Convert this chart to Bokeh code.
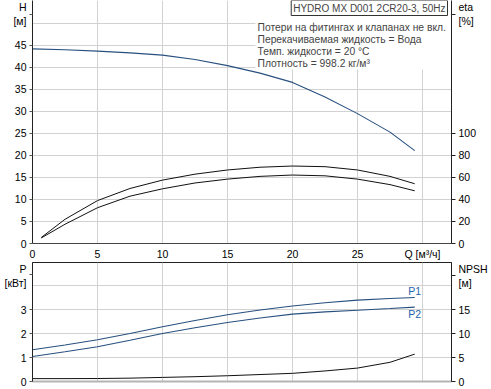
from bokeh.plotting import figure
from bokeh.layouts import column
from bokeh.models import Range1d, LinearAxis, FixedTicker, Label, BoxAnnotation
from bokeh.embed import file_html
from bokeh.resources import INLINE

# ---- data ----
q = [0, 2.5, 5, 7.5, 10, 12.5, 15, 17.5, 20, 22.5, 25, 27.5, 29.4]
head_m = [44.2, 44.0, 43.7, 43.3, 42.8, 41.8, 40.4, 38.7, 36.6, 33.3, 29.5, 25.3, 21.1]

q_eta = [0.67, 2.5, 5, 7.5, 10, 12.5, 15, 17.5, 20, 22.5, 25, 27.5, 29.4]
eta_upper = [5.4, 22, 39, 50, 57.6, 63, 66.8, 69.3, 70.4, 69.8, 66.8, 61, 54.3]
eta_lower = [5.0, 17.5, 32.5, 43, 49.7, 55, 58.5, 61, 62.2, 61.5, 58.5, 53.5, 47.9]

p1_kw = [1.32, 1.52, 1.74, 2.0, 2.28, 2.54, 2.78, 2.98, 3.15, 3.28, 3.39, 3.46, 3.5]
p2_kw = [1.04, 1.24, 1.45, 1.72, 2.0, 2.24, 2.46, 2.65, 2.81, 2.9, 2.97, 3.04, 3.1]
npsh_m = [0.6, 0.6, 0.62, 0.7, 0.85, 1.0, 1.2, 1.45, 1.7, 2.2, 2.8, 4.0, 5.7]

q_ticks = [0, 5, 10, 15, 20, 25, 30]
q_labels = ["0", "5", "10", "15", "20", "25", "Q [м³/ч]"]
h_ticks = [0, 5, 10, 15, 20, 25, 30, 35, 40, 45]
h_labels = ["0", "5", "10", "15", "20", "25", "30", "35", "40", "45"]
h_grid = [5, 10, 15, 20, 25, 30, 35, 40, 45, 50]
eta_ticks = [0, 20, 40, 60, 80, 100]
eta_labels = ["0", "20", "40", "60", "80", "100"]
p_ticks = [0, 1, 2, 3]
p_labels = ["0", "1", "2", "3"]
p_grid = [1, 2, 3, 4]
npsh_ticks = [0, 5, 10, 15]
npsh_labels = ["0", "5", "10", "15"]

h_unit = "H\n[м]"
eta_unit = "eta\n[%]"
p_unit = "P\n[кВт]"
npsh_unit = "NPSH\n[м]"

title_text = "HYDRO MX D001 2CR20-3, 50Hz"
info_lines = [
    "Потери на фитингах и клапанах не вкл.",
    "Перекачиваемая жидкость = Вода",
    "Темп. жидкости = 20 °C",
    "Плотность = 998.2 кг/м³",
]

FONT = "Liberation Sans"
FS = "10.5px"
FS_TITLE = "10px"
FS_INFO = "10.3px"
GRID = "#d2d2d2"
NAVY = "#27507f"

FW = 419
FH1 = 243
FH2 = 119
H_TOP = 55.2
ETA_TOP = 220.8
P_TOP = 4.96
NPSH_TOP = 24.8
Q_TOP = 32.23


def style_axis(ax, ticks, labels, tick_out=3):
    ax.ticker = FixedTicker(ticks=ticks)
    ax.major_label_overrides = {t: l for t, l in zip(ticks, labels)}
    ax.major_label_text_font = FONT
    ax.major_label_text_font_size = FS
    ax.major_label_text_color = "#000000"
    ax.major_tick_out = tick_out
    ax.major_tick_in = 0
    ax.minor_tick_out = 0
    ax.minor_tick_in = 0
    ax.major_tick_line_color = "#555555"
    ax.axis_line_color = "#222222"
    ax.major_label_standoff = 3


# unit label tick positions (in axis units), placed a few px below the frame top
h_u = H_TOP - 13.5 * H_TOP / FH1
eta_u = ETA_TOP - 13.5 * ETA_TOP / FH1
p_u = P_TOP - 12 * P_TOP / FH2
npsh_u = NPSH_TOP - 13 * NPSH_TOP / FH2

# ---- top: head + efficiency ----
p = figure(frame_width=FW, frame_height=FH1,
           x_range=Range1d(0, Q_TOP), y_range=Range1d(0, H_TOP),
           output_backend="svg", toolbar_location=None,
           min_border_left=32, min_border_right=40,
           min_border_top=0, min_border_bottom=19)
p.outline_line_color = None
p.extra_y_ranges = {"eta": Range1d(0, ETA_TOP)}

style_axis(p.yaxis[0], h_ticks + [h_u], h_labels + [h_unit])
style_axis(p.xaxis[0], q_ticks, q_labels, tick_out=0)
p.xaxis[0].axis_line_color = "#444444"
p.xaxis[0].major_label_standoff = 4

eta_axis = LinearAxis(y_range_name="eta")
style_axis(eta_axis, eta_ticks + [eta_u], eta_labels + [eta_unit], tick_out=4)
eta_axis.major_tick_line_color = "#222222"
p.add_layout(eta_axis, "right")

p.xgrid.ticker = FixedTicker(ticks=q_ticks[1:])
p.ygrid.ticker = FixedTicker(ticks=h_grid)
p.xgrid.grid_line_color = GRID
p.ygrid.grid_line_color = GRID

# white background behind the info text (covers grid only)
p.add_layout(BoxAnnotation(left=223, bottom=FH1 - 69, left_units="screen",
                           bottom_units="screen", fill_color="white", fill_alpha=1,
                           line_color=None, level="underlay"))

p.line(q, head_m, line_color=NAVY, line_width=1.1)
p.line(q_eta, eta_upper, y_range_name="eta", line_color="#111111", line_width=1)
p.line(q_eta, eta_lower, y_range_name="eta", line_color="#111111", line_width=1)

p.add_layout(Label(x=FW - 4, y=FH1 - 7.5, x_units="screen", y_units="screen", text=title_text,
                   text_align="right", text_baseline="middle",
                   text_font=FONT, text_font_size=FS_TITLE,
                   border_line_color="#333333", background_fill_color="white",
                   padding=2))
for i, line in enumerate(info_lines):
    p.add_layout(Label(x=225, y=FH1 - 27 - 12 * i, x_units="screen", y_units="screen",
                       text=line, text_align="left", text_baseline="middle",
                       text_font=FONT, text_font_size=FS_INFO))

# ---- bottom: power + NPSH ----
p2 = figure(frame_width=FW, frame_height=FH2,
            x_range=p.x_range, y_range=Range1d(0, P_TOP),
            output_backend="svg", toolbar_location=None,
            min_border_left=32, min_border_right=40,
            min_border_top=0, min_border_bottom=7)
p2.outline_line_color = "#222222"
p2.extra_y_ranges = {"npsh": Range1d(0, NPSH_TOP)}

style_axis(p2.yaxis[0], p_ticks + [p_u], p_labels + [p_unit])
xa = p2.xaxis[0]
xa.ticker = FixedTicker(ticks=[])
xa.major_tick_out = 0
xa.major_tick_in = 0
xa.minor_tick_out = 0
xa.minor_tick_in = 0
xa.axis_line_color = "#b4b4b4"
xa.axis_line_width = 2

npsh_axis = LinearAxis(y_range_name="npsh")
style_axis(npsh_axis, npsh_ticks + [npsh_u], npsh_labels + [npsh_unit], tick_out=4)
npsh_axis.major_tick_line_color = "#222222"
p2.add_layout(npsh_axis, "right")

p2.xgrid.ticker = FixedTicker(ticks=q_ticks[1:])
p2.ygrid.ticker = FixedTicker(ticks=p_grid)
p2.xgrid.grid_line_color = GRID
p2.ygrid.grid_line_color = GRID

p2.line(q, p1_kw, line_color=NAVY, line_width=1.1)
p2.line(q, p2_kw, line_color=NAVY, line_width=1.1)
p2.line(q, npsh_m, y_range_name="npsh", line_color="#111111", line_width=1)

p2.add_layout(Label(x=q[-1], y=p1_kw[-1] + 0.26, text="P1", text_align="center",
                    text_baseline="middle", text_font=FONT, text_font_size=FS,
                    text_color="#2463aa"))
p2.add_layout(Label(x=q[-1], y=p2_kw[-1] - 0.28, text="P2", text_align="center",
                    text_baseline="middle", text_font=FONT, text_font_size=FS,
                    text_color="#2463aa"))

layout = column(p, p2, spacing=0)
open("out.html", "w").write(file_html(layout, INLINE))
